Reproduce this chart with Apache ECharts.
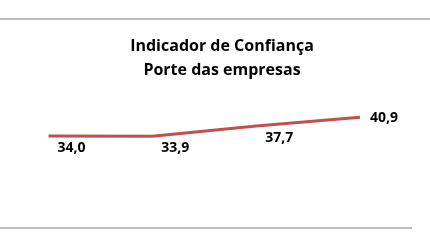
<!DOCTYPE html>
<html>
<head>
<meta charset="utf-8">
<script src="https://cdn.jsdelivr.net/npm/echarts@6/dist/echarts.min.js"></script>
<style>html,body{margin:0;padding:0;background:#fff}#c{width:430px;height:243px}</style>
</head>
<body>
<div id="c"></div>
<script>
const categories = ['Pequenas', 'Médias', 'Grandes', 'Total'];
const values = [34.0, 33.9, 37.7, 40.9];
const titleLines = ['Indicador de Confiança', 'Porte das empresas'];

const chart = echarts.init(document.getElementById('c'), null, {renderer: 'canvas'});
const labelCfg = [
  {show: true, position: 'bottom', offset: [23, -1]},
  {show: true, position: 'bottom', offset: [23, -1]},
  {show: true, position: 'bottom', offset: [23, -1]},
  {show: true, position: 'right', distance: 9, offset: [0, 1]}
];
chart.setOption({
  animation: false,
  title: {
    text: titleLines.join('\n'),
    left: 217, top: 29, textAlign: 'center',
    textStyle: {fontFamily: 'Open Sans', fontWeight: 'bold', fontSize: 16, lineHeight: 24, color: '#000'}
  },
  graphic: [{
    type: 'line', shape: {x1: 0, y1: 19, x2: 430, y2: 19},
    style: {stroke: '#a6a6a6', lineWidth: 1.5}
  }, {
    type: 'line', shape: {x1: 0, y1: 228, x2: 412, y2: 228},
    style: {stroke: '#a6a6a6', lineWidth: 1.5}
  }],
  grid: {left: 48.5, right: 70, top: 92.7, bottom: 15},
  xAxis: {
    type: 'category', data: categories, boundaryGap: false,
    axisLine: {show: false},
    axisTick: {show: false}, axisLabel: {show: false}
  },
  yAxis: {type: 'value', min: 0, max: 50, show: false, splitLine: {show: false}},
  series: [{
    type: 'line', data: values.map((v, i) => ({value: v, label: labelCfg[i]})),
    symbol: 'circle', symbolSize: 2, showSymbol: true,
    itemStyle: {color: 'rgba(192,80,77,0)'},
    lineStyle: {color: '#c0504d', width: 3},
    label: {
      show: true, color: '#000', fontFamily: 'Open Sans', fontWeight: 'bold', fontSize: 14,
      formatter: p => p.value.toFixed(1).replace('.', ',')
    }
  }]
});
</script>
</body>
</html>
